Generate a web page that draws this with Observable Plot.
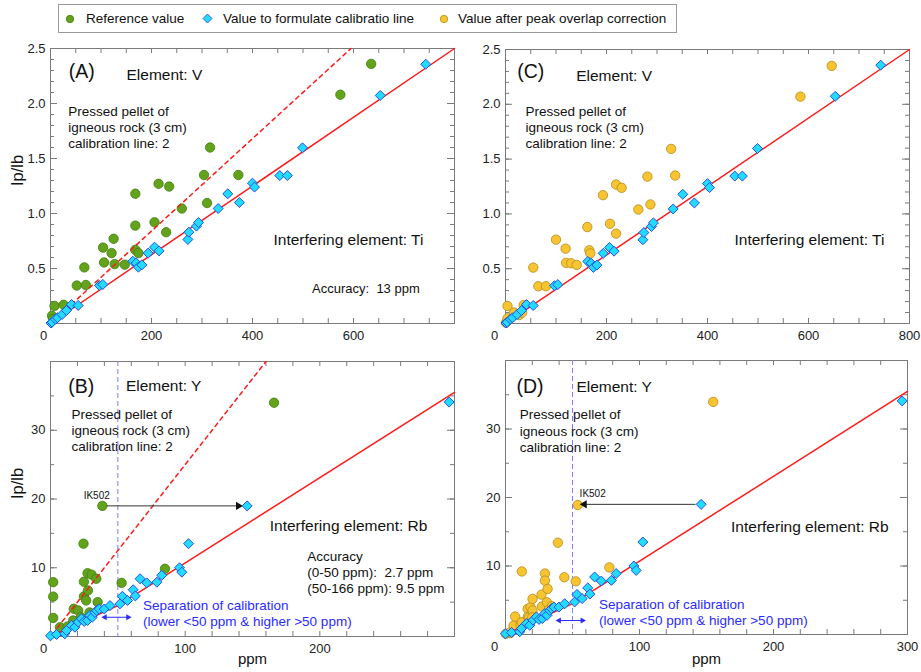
<!DOCTYPE html>
<html>
<head>
<meta charset="utf-8">
<script src="https://cdn.jsdelivr.net/npm/d3@7"></script>
<script src="https://cdn.jsdelivr.net/npm/@observablehq/plot@0.6"></script>
<style>
  body { margin: 0; background: #fff; }
  #wrap { position: relative; width: 921px; height: 672px; font-family: "Liberation Sans", Arial, sans-serif; color: #111; }
  .pos { position: absolute; }
  #legend { position: absolute; left: 58px; top: 4px; width: 617px; height: 27px; border: 1px solid #999; background: #fff; }
  .li { position: absolute; top: 0; height: 27px; line-height: 27px; font-size: 13.5px; white-space: nowrap; }
  .ls { position: absolute; top: 9px; }
</style>
</head>
<body>
<div id="wrap">
  <div id="legend"></div>
</div>
<script>
// ---------------- DATA ----------------
// Legend labels
const legendLabels = ["Reference value", "Value to formulate calibratio line", "Value after peak overlap correction"];

// Panel A: Element V, reference values (green)
const refA_ppm = [3, 5, 8, 26, 52, 70, 67, 104, 106, 121, 125, 127, 147, 168, 168, 168, 174, 206, 214, 229, 235, 260, 304, 310, 316, 372, 574, 635];
const refA_val = [0.07, 0.04, 0.16, 0.17, 0.345, 0.35, 0.51, 0.69, 0.555, 0.64, 0.77, 0.54, 0.535, 1.18, 0.89, 0.67, 0.64, 0.92, 1.27, 0.83, 1.245, 1.045, 1.35, 1.095, 1.6, 1.35, 2.08, 2.36];

// Panels A & C: values used to formulate calibration line (V)
const calV_ppm = [1, 3.3, 9.9, 13.9, 23, 31.7, 41.6, 54.8, 97, 103.6, 163, 169.6, 174, 181, 193.4, 206, 215, 272, 274, 289, 293, 332, 351, 374, 400, 404, 454, 469, 499, 653, 743];
const calV_val = [0.004, 0.012, 0.04, 0.052, 0.082, 0.118, 0.173, 0.164, 0.345, 0.355, 0.566, 0.55, 0.512, 0.533, 0.64, 0.694, 0.66, 0.764, 0.83, 0.885, 0.918, 1.045, 1.179, 1.1, 1.276, 1.24, 1.345, 1.345, 1.597, 2.073, 2.357];

// Panel C: values after peak overlap correction (V)
const corrC_ppm = [0.7, 3, 4, 4, 17, 27, 33, 36, 55, 65, 80, 100, 119, 120, 130, 141, 162, 166, 168, 193, 207, 219, 219, 230, 263, 281, 287, 328, 336, 584, 646];
const corrC_val = [0.007, 0.02, 0.047, 0.16, 0.1, 0.077, 0.1, 0.168, 0.51, 0.34, 0.34, 0.765, 0.683, 0.553, 0.55, 0.535, 0.88, 0.668, 0.64, 1.171, 0.91, 1.268, 0.82, 1.238, 1.04, 1.34, 1.086, 1.593, 1.35, 2.07, 2.35];

// Panel B: Element Y, reference values (green)
const refB_ppm = [2, 2, 2, 7, 12.7, 16.8, 17.3, 20.6, 22.6, 24.5, 24.8, 24.8, 26.5, 27.5, 27.8, 29, 30.5, 34, 35, 38.5, 52.8, 85, 166];
const refB_val = [7.9, 5.8, 2.7, 1.35, 1.46, 2.33, 4.03, 3.78, 2.81, 13.5, 7.96, 5.82, 5.24, 9.2, 6.7, 3.5, 9.0, 8.4, 5.0, 19.0, 7.8, 9.85, 34.0];

// Panels B & D: values used to formulate calibration line (Y)
const calY_ppm = [0, 4.5, 10.6, 11.9, 15.6, 18.1, 20.6, 23, 25, 27.5, 29.3, 31, 33, 34.3, 36.2, 39.9, 44.2, 51.6, 53.4, 57.2, 61.4, 63, 66.5, 71.5, 79, 82.6, 95.8, 97.5, 102.5, 146, 296];
const calY_val = [0.1, 0.3, 0.4, 0.87, 1.6, 1.35, 2.1, 2.57, 2.2, 2.33, 3.06, 2.8, 3.5, 3.78, 4.0, 4.0, 4.5, 4.75, 5.85, 5.24, 6.8, 5.9, 8.4, 7.8, 7.9, 8.9, 10.0, 9.36, 13.5, 19.0, 34.1];

// Panel D: values after peak overlap correction (Y)
const corrD_ppm = [0.2, 3.5, 3.7, 6, 7.2, 11.2, 12.2, 12.2, 16.5, 16.7, 17.5, 18.5, 18.7, 20.2, 20.2, 20, 26.9, 27.2, 29.4, 29.4, 30.9, 31.4, 32.2, 34.6, 39.1, 43.9, 52.4, 53.9, 77.5, 155];
const corrD_val = [0.1, 0.2, 0.34, 1.31, 2.62, 1.46, 1.8, 9.2, 3.74, 2.62, 2.42, 1.8, 3.98, 5.2, 3.5, 2.5, 5.82, 4.08, 8.9, 7.86, 4.7, 6.65, 3.6, 4.12, 13.4, 8.35, 7.76, 18.9, 9.8, 33.96];

// Calibration lines (solid) and reference lines (dashed)
const fitV_ppm = [0, 800];
const fitV_val = [0, 2.5];
const dashV_ppm = [30, 595];
const dashV_val = [0.126, 2.5];
const fitY_ppm = [0, 50, 300];
const fitY_val = [0, 4.5, 35.5];
const dashY_ppm = [5, 160];
const dashY_val = [1.25, 40];
const separationPpm = [50];

// IK502 sample
const ik502_ref_ppm = 38.5, ik502_corr_ppm = 53.9, ik502_cal_ppm = 146, ik502_val = 19;

// Tick labels
const ticksA_x = [0, 200, 400, 600];
const ticksC_x = [0, 200, 400, 600, 800];
const ticksV_y = [0.5, 1.0, 1.5, 2.0, 2.5];
const ticksB_x = [0, 100, 200];
const ticksD_x = [0, 100, 200, 300];
const ticksY_y = [10, 20, 30];

// ---------------- STYLE ----------------
const GREEN = "#62a31b", GREEN_S = "#3f7d10";
const CYAN = "#22dcff", CYAN_S = "#2650e6";
const YEL = "#f8c531", YEL_S = "#b28a1e";
const RED = "#ff1a1a";
const BLUE = "#2b2bff";
const FRAME = "#7a7a7a";
const FONT = "'Liberation Sans', Arial, Helvetica, sans-serif";

const zip = (a, b) => a.map((v, i) => ({x: v, y: b[i]}));

function lbl(text, x, y, o = {}) {
  return Plot.text([{t: text, x, y}], {x: "x", y: "y", text: "t", textAnchor: "start", fontSize: 15.5, fill: "#111", ...o});
}

function panel(cfg) {
  const fw = cfg.width - cfg.mL - cfg.mR, fh = cfg.height - cfg.mT - cfg.mB;
  const tk = {stroke: FRAME, strokeWidth: 1};
  const marks = [
    Plot.tickX(cfg.xMinor, {x: d => d, insetTop: fh - 5, ...tk}),
    Plot.tickX(cfg.xMinor, {x: d => d, insetBottom: fh - 5, ...tk}),
    Plot.tickY(cfg.yMinor, {y: d => d, insetRight: fw - 4, ...tk}),
    Plot.tickY(cfg.yMinor, {y: d => d, insetLeft: fw - 4, ...tk}),
    Plot.tickY(cfg.yMajor, {y: d => d, insetRight: fw - 7, ...tk}),
    Plot.tickY(cfg.yMajor, {y: d => d, insetLeft: fw - 7, ...tk}),
    Plot.frame({stroke: FRAME}),
    Plot.axisX({ticks: cfg.xLabels.filter(v => v !== 0), anchor: "bottom", tickSize: 0, tickPadding: 7, label: null, fontSize: 13, fill: "#222"}),
    Plot.axisX({ticks: [0], anchor: "bottom", tickSize: 0, tickPadding: 7, label: null, fontSize: 13, fill: "#222", dx: cfg.zeroDx}),
    Plot.axisY({ticks: cfg.yLabels, anchor: "left", tickSize: 0, tickPadding: 5, label: null, fontSize: 13, fill: "#222", tickFormat: cfg.yFmt})
  ];
  return Plot.plot({
    width: cfg.width, height: cfg.height,
    marginLeft: cfg.mL, marginRight: cfg.mR, marginTop: cfg.mT, marginBottom: cfg.mB,
    x: {domain: cfg.xDomain},
    y: {domain: cfg.yDomain},
    style: {fontFamily: FONT, fontSize: "13px", background: "transparent", overflow: "visible"},
    marks: [...marks, ...cfg.marks]
  });
}

const wrap = document.getElementById("wrap");
function place(svg, left, top) {
  const d = document.createElement("div");
  d.className = "pos";
  d.style.left = left + "px";
  d.style.top = top + "px";
  d.appendChild(svg);
  wrap.appendChild(d);
}

const dotG = (p, v) => Plot.dot(zip(p, v), {x: "x", y: "y", r: 4.7, fill: GREEN, stroke: GREEN_S, strokeWidth: 0.8});
const dotY = (p, v) => Plot.dot(zip(p, v), {x: "x", y: "y", r: 4.7, fill: YEL, stroke: YEL_S, strokeWidth: 0.8});
const dia = (p, v) => Plot.dot(zip(p, v), {x: "x", y: "y", r: 4.5, symbol: "diamond2", fill: CYAN, stroke: CYAN_S, strokeWidth: 1});
const solid = (p, v) => Plot.line(zip(p, v), {x: "x", y: "y", stroke: RED, strokeWidth: 1.5});
const dashed = (p, v) => Plot.line(zip(p, v), {x: "x", y: "y", stroke: RED, strokeWidth: 1.5, strokeDasharray: "4,4"});
const sepRule = Plot.ruleX(separationPpm, {stroke: "#7e7eff", strokeWidth: 1, strokeDasharray: "5,3"});
const ipLabel = Plot.text(["Ip/lb"], {frameAnchor: "left", rotate: -90, dx: -33, fontSize: 16.5, fill: "#111"});
const ppmLabel = (dy) => Plot.text(["ppm"], {frameAnchor: "bottom", dy, fontSize: 15, fill: "#111"});
const pellet = "Pressed pellet of\nigneous rock (3 cm)\ncalibration line: 2";
function dblArrow(x1, x2, y) {
  return [
    Plot.link([{x1, x2, y}], {x1: "x1", x2: "x2", y1: "y", y2: "y", stroke: BLUE, strokeWidth: 1}),
    Plot.dot([{x: x1, y, a: -90}, {x: x2, y, a: 90}], {x: "x", y: "y", rotate: "a", symbol: "triangle", r: 2.3, fill: BLUE, stroke: "none"})
  ];
}

// ---------------- PANEL A ----------------
place(panel({
  width: 460, height: 312, mL: 50, mR: 6, mT: 12, mB: 25,
  xDomain: [0, 800], yDomain: [0, 2.5],
  xLabels: ticksA_x, yLabels: ticksV_y, yFmt: d3.format(".1f"), zeroDx: -7,
  xMinor: d3.range(0, 801, 50), yMinor: d3.range(0, 2.51, 0.1), yMajor: d3.range(0, 2.51, 0.5),
  marks: [
    dotG(refA_ppm, refA_val),
    dashed(dashV_ppm, dashV_val),
    solid(fitV_ppm, fitV_val),
    dia(calV_ppm, calV_val),
    ipLabel,
    lbl("(A)", 36, 2.29, {fontSize: 19.5}),
    lbl("Element: V", 150.5, 2.255),
    lbl(pellet, 35, 1.79, {fontSize: 13.5, lineHeight: 1.19}),
    lbl("Interfering element: Ti", 441.6, 0.755),
    lbl("Accuracy:  13 ppm", 518, 0.318, {fontSize: 13})
  ]
}), 0, 36);

// ---------------- PANEL B ----------------
place(panel({
  width: 460, height: 324, mL: 50, mR: 6, mT: 13, mB: 36,
  xDomain: [0, 300], yDomain: [0, 40],
  xLabels: ticksB_x, yLabels: ticksY_y, yFmt: d3.format("d"), zeroDx: -7,
  xMinor: d3.range(0, 301, 20), yMinor: d3.range(0, 41, 5), yMajor: d3.range(0, 41, 10),
  marks: [
    sepRule,
    dotG(refB_ppm, refB_val),
    dashed(dashY_ppm, dashY_val),
    solid(fitY_ppm, fitY_val),
    Plot.link([{x1: ik502_ref_ppm + 3.4, x2: ik502_cal_ppm - 6.5, y: ik502_val}], {x1: "x1", x2: "x2", y1: "y", y2: "y", stroke: "#333", strokeWidth: 1}),
    Plot.dot([{x: ik502_cal_ppm - 6.5, y: ik502_val}], {x: "x", y: "y", symbol: "triangle", rotate: 90, r: 3, fill: "#111", stroke: "none"}),
    dia(calY_ppm, calY_val),
    ...dblArrow(40.4, 57.6, 2.8),
    ipLabel,
    ppmLabel(27),
    lbl("IK502", 34.3, 20.5, {fontSize: 10, textAnchor: "middle"}),
    lbl("(B)", 13.1, 36.4, {fontSize: 19.5}),
    lbl("Element: Y", 56, 36.4),
    lbl(pellet, 15.6, 30.1, {fontSize: 13.5, lineHeight: 1.19}),
    lbl("Interfering element: Rb", 162.8, 16.05),
    lbl("Accuracy\n(0-50 ppm):  2.7 ppm\n(50-166 ppm): 9.5 ppm", 190.6, 9.36, {fontSize: 13.5, lineHeight: 1.19}),
    lbl("Separation of calibration\n(lower <50 ppm & higher >50 ppm)", 68.7, 3.45, {fontSize: 13.5, lineHeight: 1.19, fill: BLUE})
  ]
}), 0, 348);

// ---------------- PANEL C ----------------
place(panel({
  width: 461, height: 312, mL: 45, mR: 12, mT: 13, mB: 25,
  xDomain: [0, 800], yDomain: [0, 2.5],
  xLabels: ticksC_x, yLabels: ticksV_y, yFmt: d3.format(".1f"), zeroDx: -11,
  xMinor: d3.range(0, 801, 50), yMinor: d3.range(0, 2.51, 0.1), yMajor: d3.range(0, 2.51, 0.5),
  marks: [
    dotY(corrC_ppm, corrC_val),
    solid(fitV_ppm, fitV_val),
    dia(calV_ppm, calV_val),
    lbl("(C)", 23.2, 2.3, {fontSize: 19.5}),
    lbl("Element: V", 140, 2.26),
    lbl(pellet, 39.6, 1.795, {fontSize: 13.5, lineHeight: 1.19}),
    lbl("Interfering element: Ti", 453.5, 0.76)
  ]
}), 460, 36);

// ---------------- PANEL D ----------------
place(panel({
  width: 461, height: 324, mL: 45, mR: 14, mT: 12, mB: 38,
  xDomain: [0, 300], yDomain: [0, 40],
  xLabels: ticksD_x, yLabels: ticksY_y, yFmt: d3.format("d"), zeroDx: -11,
  xMinor: d3.range(0, 301, 20), yMinor: d3.range(0, 41, 5), yMajor: d3.range(0, 41, 10),
  marks: [
    sepRule,
    dotY(corrD_ppm, corrD_val),
    solid(fitY_ppm, fitY_val),
    Plot.link([{x1: ik502_cal_ppm - 4.3, x2: ik502_corr_ppm + 5, y: ik502_val}], {x1: "x1", x2: "x2", y1: "y", y2: "y", stroke: "#333", strokeWidth: 1}),
    Plot.dot([{x: ik502_corr_ppm + 5, y: ik502_val}], {x: "x", y: "y", symbol: "triangle", rotate: -90, r: 3, fill: "#111", stroke: "none"}),
    dia(calY_ppm, calY_val),
    ...dblArrow(40, 57.4, 2.04),
    ppmLabel(29),
    lbl("IK502", 55.3, 20.6, {fontSize: 10}),
    lbl("(D)", 8.2, 36.1, {fontSize: 19.5}),
    lbl("Element: Y", 52.9, 36.1),
    lbl(pellet, 10.7, 29.8, {fontSize: 13.5, lineHeight: 1.19}),
    lbl("Interfering element: Rb", 168.3, 15.76),
    lbl("Separation of calibration\n(lower <50 ppm & higher >50 ppm)", 69.8, 3.35, {fontSize: 13.5, lineHeight: 1.19, fill: BLUE})
  ]
}), 460, 348);

// ---------------- LEGEND ----------------
const legend = document.getElementById("legend");
const items = [
  {sym: `<svg class="ls" style="left:6px" width="10" height="10"><circle cx="5" cy="5" r="3.7" fill="${GREEN}" stroke="${GREEN_S}" stroke-width="0.8"/></svg>`, textX: 27, label: legendLabels[0]},
  {sym: `<svg class="ls" style="left:143px;top:8px" width="11" height="11"><path d="M5.5,1L10,5.5L5.5,10L1,5.5Z" fill="${CYAN}" stroke="${CYAN_S}" stroke-width="0.9"/></svg>`, textX: 164, label: legendLabels[1]},
  {sym: `<svg class="ls" style="left:380px" width="10" height="10"><circle cx="5" cy="5" r="3.7" fill="${YEL}" stroke="${YEL_S}" stroke-width="0.8"/></svg>`, textX: 399, label: legendLabels[2]}
];
for (const it of items) {
  legend.insertAdjacentHTML("beforeend", it.sym);
  const s = document.createElement("span");
  s.className = "li";
  s.style.left = it.textX + "px";
  s.textContent = it.label;
  legend.appendChild(s);
}
</script>
</body>
</html>
